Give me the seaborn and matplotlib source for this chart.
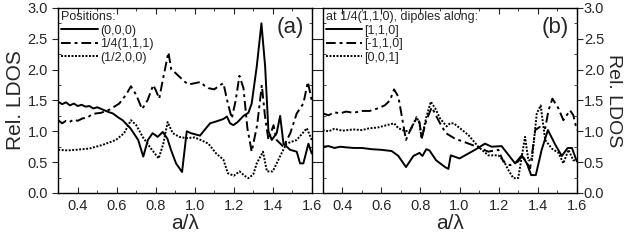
import numpy as np
import pandas as pd
import matplotlib
matplotlib.use("Agg")
import matplotlib.pyplot as plt
from matplotlib.ticker import MultipleLocator
import seaborn as sns

sns.set_style("ticks")
plt.rcParams["font.family"] = ["Liberation Sans", "DejaVu Sans"]

# Data panel (a): positions
# ==============================================================================
a_x_000 = [0.30, 0.32, 0.34, 0.36, 0.38, 0.40, 0.42, 0.44, 0.46, 0.48, 0.50, 0.53,
           0.56, 0.58, 0.61, 0.63, 0.67, 0.71, 0.736, 0.76, 0.784, 0.81, 0.836, 0.86,
           0.878, 0.904, 0.935, 0.959, 0.98, 1.027, 1.05, 1.079, 1.11, 1.147, 1.165,
           1.181, 1.198, 1.22, 1.25, 1.275, 1.292, 1.318, 1.342, 1.361, 1.378, 1.395,
           1.42, 1.438, 1.455, 1.489, 1.523, 1.54, 1.557, 1.583, 1.60]
a_y_000 = [1.48, 1.44, 1.47, 1.42, 1.45, 1.41, 1.43, 1.40, 1.41, 1.37, 1.39, 1.35,
           1.31, 1.29, 1.22, 1.18, 1.05, 0.86, 0.59, 0.86, 0.97, 0.91, 0.99, 0.88,
           0.70, 0.48, 0.34, 1.00, 0.97, 0.93, 1.02, 1.13, 1.16, 1.20, 1.24,
           1.13, 1.10, 1.15, 1.25, 1.30, 1.45, 2.05, 2.75, 2.05, 1.00, 0.86,
           0.97, 1.25, 0.80, 0.70, 0.67, 0.48, 0.48, 0.80, 0.64]

a_x_111 = [0.30, 0.32, 0.34, 0.357, 0.38, 0.40, 0.425, 0.45, 0.47, 0.493, 0.52, 0.562,
           0.613, 0.647, 0.673, 0.70, 0.73, 0.759, 0.787, 0.80, 0.818, 0.836, 0.865,
           0.88, 0.90, 0.95, 0.97, 1.00, 1.03, 1.05, 1.07, 1.10, 1.13, 1.147, 1.17,
           1.19, 1.21, 1.229, 1.25, 1.27, 1.292, 1.32, 1.344, 1.36, 1.378, 1.404,
           1.42, 1.455, 1.49, 1.523, 1.557, 1.58, 1.60]
a_y_111 = [1.18, 1.13, 1.17, 1.15, 1.19, 1.17, 1.21, 1.22, 1.27, 1.29, 1.30, 1.35,
           1.45, 1.59, 1.73, 1.59, 1.36, 1.51, 1.75, 1.67, 1.53, 1.83, 2.28,
           2.00, 1.95, 1.80, 1.76, 1.78, 1.80, 1.74, 1.70, 1.68, 1.75, 1.78, 1.45,
           1.21, 1.50, 1.90, 1.70, 1.05, 0.67, 1.10, 1.75, 1.25, 0.86, 1.10,
           0.86, 0.75, 0.97, 1.29, 1.45, 1.80, 1.50]

a_x_200 = [0.30, 0.35, 0.39, 0.459, 0.528, 0.596, 0.638, 0.673, 0.70, 0.733, 0.776,
           0.815, 0.839, 0.861, 0.887, 0.921, 0.955, 1.00, 1.03, 1.07, 1.11, 1.147,
           1.17, 1.20, 1.23, 1.255, 1.275, 1.30, 1.318, 1.35, 1.37, 1.40, 1.44,
           1.47, 1.523, 1.575, 1.60]
a_y_200 = [0.70, 0.69, 0.70, 0.72, 0.78, 0.86, 0.97, 1.18, 1.10, 0.91, 0.72,
           0.56, 0.80, 1.15, 0.97, 0.91, 0.89, 0.90, 0.86, 0.80, 0.64, 0.54,
           0.32, 0.28, 0.35, 0.28, 0.24, 0.30, 0.48, 0.67, 0.35, 0.35, 0.61,
           0.80, 0.86, 1.05, 0.86]

# Data panel (b): dipole orientations at 1/4(1,1,0)
# ==============================================================================
b_x_110 = [0.30, 0.33, 0.36, 0.39, 0.42, 0.457, 0.50, 0.55, 0.60, 0.653, 0.687, 0.726,
           0.764, 0.795, 0.81, 0.83, 0.846, 0.88, 0.926, 0.943, 0.955, 1.00, 1.079,
           1.13, 1.164, 1.215, 1.284, 1.318, 1.344, 1.366, 1.39, 1.42, 1.452, 1.49,
           1.523, 1.553, 1.575, 1.60]
b_y_110 = [0.75, 0.76, 0.73, 0.75, 0.74, 0.73, 0.73, 0.71, 0.70, 0.68, 0.60, 0.42,
           0.60, 0.65, 0.60, 0.71, 0.69, 0.53, 0.42, 0.39, 0.61, 0.56, 0.70,
           0.80, 0.75, 0.76, 0.48, 0.61, 0.48, 0.29, 0.29, 0.70, 1.02, 0.78,
           0.60, 0.73, 0.73, 0.51]

b_x_m110 = [0.30, 0.33, 0.36, 0.387, 0.42, 0.457, 0.50, 0.54, 0.58, 0.617, 0.644, 0.665,
            0.687, 0.726, 0.755, 0.78, 0.795, 0.806, 0.83, 0.858, 0.90, 0.93, 0.977,
            1.03, 1.096, 1.147, 1.198, 1.224, 1.258, 1.30, 1.32, 1.361, 1.387, 1.41,
            1.438, 1.455, 1.475, 1.506, 1.531, 1.565, 1.582, 1.60]
b_y_m110 = [1.29, 1.26, 1.31, 1.29, 1.32, 1.30, 1.33, 1.33, 1.37, 1.42, 1.50, 1.68,
            1.56, 0.86, 1.07, 1.21, 1.15, 0.88, 1.18, 1.39, 1.13, 0.97, 0.88,
            0.82, 0.74, 0.67, 0.70, 0.51, 0.45, 0.51, 0.61, 0.40, 1.02, 1.07,
            1.05, 1.34, 1.53, 1.37, 1.18, 1.34, 1.26, 1.02]

b_x_001 = [0.30, 0.33, 0.36, 0.40, 0.457, 0.50, 0.54, 0.58, 0.628, 0.665, 0.687, 0.724,
           0.75, 0.78, 0.795, 0.806, 0.83, 0.853, 0.876, 0.90, 0.934, 0.951, 0.97,
           0.994, 1.045, 1.096, 1.147, 1.198, 1.224, 1.25, 1.275, 1.30, 1.335, 1.352,
           1.37, 1.395, 1.415, 1.438, 1.472, 1.506, 1.531, 1.557, 1.582, 1.60]
b_y_001 = [1.02, 1.00, 1.04, 1.01, 1.03, 1.02, 1.05, 1.06, 1.10, 1.13, 1.05, 1.00,
           1.02, 1.23, 1.13, 0.88, 1.23, 1.48, 1.37, 1.21, 1.08, 1.13, 1.13,
           1.07, 0.94, 0.75, 0.61, 0.61, 0.53, 0.37, 0.24, 0.24, 0.91, 0.53,
           0.53, 1.29, 1.42, 0.86, 0.72, 0.65, 0.48, 0.70, 0.53, 0.53]

labels_a = ["(0,0,0)", "1/4(1,1,1)", "(1/2,0,0)"]
labels_b = ["[1,1,0]", "[-1,1,0]", "[0,0,1]"]

def long_df(xs, ys, labels):
    parts = [pd.DataFrame({"x": x, "y": y, "serie": lab}) for x, y, lab in zip(xs, ys, labels)]
    return pd.concat(parts, ignore_index=True)

datos_a = long_df([a_x_000, a_x_111, a_x_200], [a_y_000, a_y_111, a_y_200], labels_a)
datos_b = long_df([b_x_110, b_x_m110, b_x_001], [b_y_110, b_y_m110, b_y_001], labels_b)

estilos = ["", (5, 2, 1.5, 2), (1, 0.8)]

# Figure
# ==============================================================================
fig = plt.figure(figsize=(6.26, 2.49), dpi=100)
ax_a = fig.add_axes([0.093, 0.225, 0.405, 0.743])
ax_b = fig.add_axes([0.5155, 0.225, 0.406, 0.743])

for ax, datos, labels, titulo, letra in [
        (ax_a, datos_a, labels_a, "Positions:", "(a)"),
        (ax_b, datos_b, labels_b, "at 1/4(1,1,0), dipoles along:", "(b)")]:
    sns.lineplot(data=datos, x="x", y="y", style="serie", style_order=labels,
                 dashes=dict(zip(labels, estilos)), color="black", linewidth=1.4,
                 estimator=None, ax=ax, legend=False)
    handles = ax.get_lines()[:3]
    ax.legend(handles, labels, title=titulo, loc="upper left", frameon=False,
              fontsize=9, title_fontsize=9, handlelength=2.9, handletextpad=0.2,
              labelspacing=0.12, borderaxespad=0.1, borderpad=0.15,
              alignment="left")
    ax.text(0.97, 0.95, letra, transform=ax.transAxes, ha="right", va="top", fontsize=16)
    ax.set_xlim(0.3, 1.6)
    ax.set_ylim(0, 3.0)
    ax.xaxis.set_major_locator(MultipleLocator(0.2))
    ax.xaxis.set_minor_locator(MultipleLocator(0.1))
    ax.yaxis.set_major_locator(MultipleLocator(0.5))
    ax.yaxis.set_minor_locator(MultipleLocator(0.25))
    ax.tick_params(axis="x", which="both", direction="in", top=True, labelsize=10.5,
                   pad=4)
    ax.tick_params(axis="x", which="major", length=4)
    ax.tick_params(axis="x", which="minor", length=2.5)
    ax.tick_params(axis="y", which="both", direction="in", left=True, right=True,
                   labelsize=10.5)
    ax.tick_params(axis="y", which="major", length=4)
    ax.tick_params(axis="y", which="minor", length=2.5)
    ax.set_xlabel("a/λ", fontsize=15, labelpad=1)
    for s in ax.spines.values():
        s.set_linewidth(1.0)
        s.set_color("black")

ax_a.set_xticks([0.4, 0.6, 0.8, 1.0, 1.2, 1.4, 1.6])
ax_a.set_ylabel("Rel. LDOS", fontsize=15, labelpad=2)
ax_a.tick_params(axis="y", which="major", direction="out", left=True)
ax_a.tick_params(axis="y", which="major", right=True)

ax_b.set_xticks([0.4, 0.6, 0.8, 1.0, 1.2, 1.4, 1.6])
ax_b.yaxis.tick_right()
ax_b.tick_params(axis="y", which="both", left=True, labelleft=False, labelright=True,
                 pad=1)
ax_b.tick_params(axis="y", which="major", direction="out")
ax_b.yaxis.set_label_position("right")
ax_b.set_ylabel("Rel. LDOS", fontsize=14, rotation=270, labelpad=13)

fig.savefig("out.png", dpi=100)
